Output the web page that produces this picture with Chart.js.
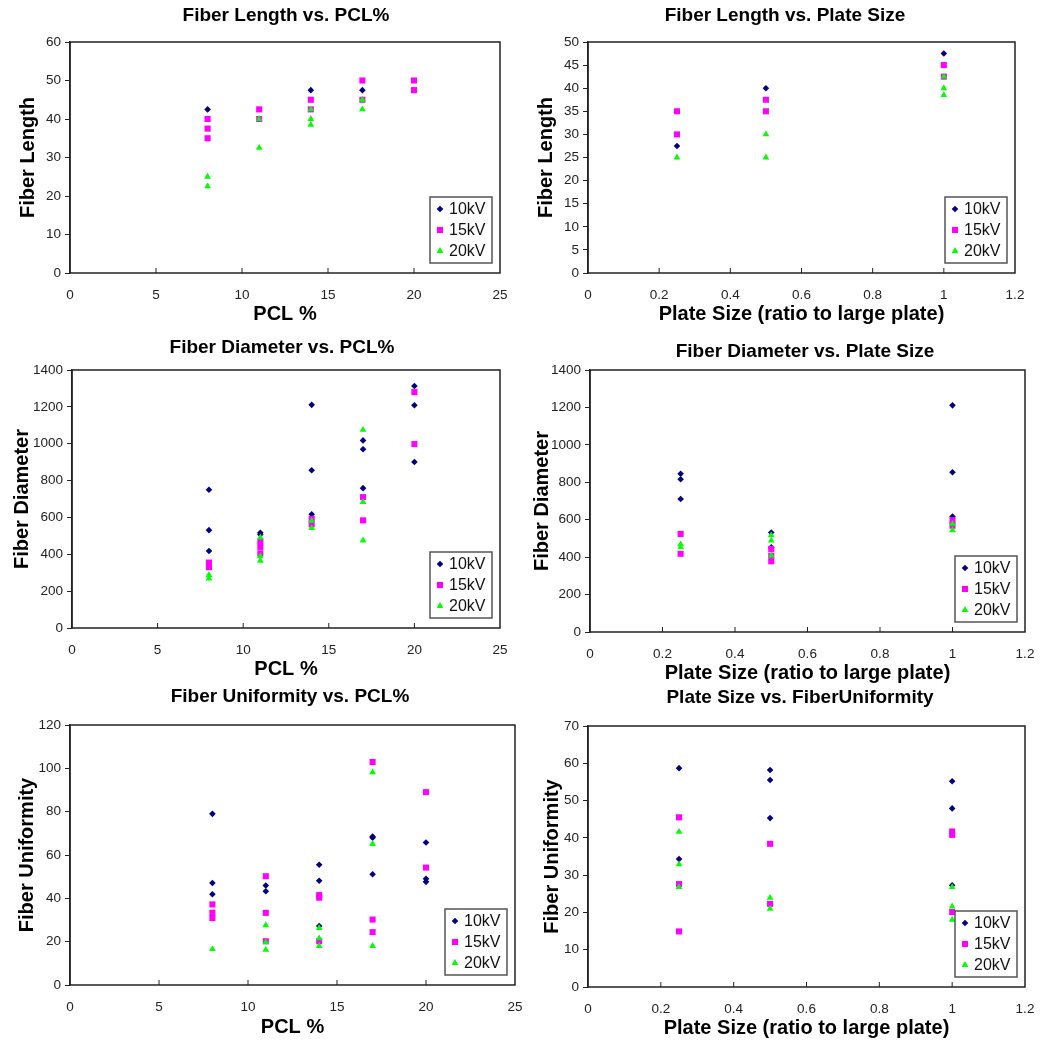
<!DOCTYPE html>
<html>
<head>
<meta charset="utf-8">
<script src="https://cdn.jsdelivr.net/npm/chart.js@4.4.1/dist/chart.umd.min.js"></script>
<style>
  body { margin: 0; background: #fff; width: 1049px; height: 1050px; position: relative; overflow: hidden; }
  .panel { position: absolute; }
</style>
</head>
<body>
<script>
// x categories
const pclLevels = [8, 11, 14, 17, 20];
const plateLevels = [0.25, 0.5, 1];
const seriesNames = ['10kV', '15kV', '20kV'];

// values grouped per x level (same order as the level arrays)
const lengthPcl10 = [[42.5], [], [47.5], [47.5], []];
const lengthPcl15 = [[40, 37.5, 35], [42.5, 40], [45, 42.5], [50, 45], [50, 47.5]];
const lengthPcl20 = [[25, 22.5], [40, 32.5], [42.5, 40, 38.5], [45, 42.5], []];

const lengthPlate10 = [[27.5], [40], [47.5]];
const lengthPlate15 = [[35, 30], [37.5, 35], [45, 42.5]];
const lengthPlate20 = [[25], [30, 25], [42.5, 40, 38.5]];

const diamPcl10 = [[750, 531, 418], [517, 507], [1211, 856, 617], [1018, 970, 759], [1313, 1209, 901]];
const diamPcl15 = [[355, 330], [470, 440, 405], [592, 562], [710, 584], [1280, 998]];
const diamPcl20 = [[288, 268], [491, 390, 365], [582, 542], [1075, 684, 475], []];

const diamPlate10 = [[846, 816, 711], [532, 452], [1211, 854, 617]];
const diamPlate15 = [[524, 418], [444, 408, 378], [597, 568]];
const diamPlate20 = [[468, 452], [518, 488, 408], [578, 544]];

const unifPcl10 = [[79, 47.1, 41.9], [45.9, 43.3], [55.5, 48.1, 27.2], [68.5, 68, 51.1], [65.8, 49, 47.6]];
const unifPcl15 = [[37.2, 33.4, 30.9], [50.2, 33.3, 20.2], [41.5, 40.3, 20.2], [102.9, 30.2, 24.4], [89, 54.2]];
const unifPcl20 = [[16.6], [27.6, 19.7, 16.2], [26.3, 21.5, 18], [98.2, 65.1, 18], []];

const unifPlate10 = [[58.7, 34.3], [58.2, 55.5, 45.3], [55.2, 47.9, 27.3]];
const unifPlate15 = [[45.5, 27.6, 14.9], [38.4, 22.3], [41.7, 40.8, 20.1]];
const unifPlate20 = [[41.6, 32.9, 26.8], [23.9, 21], [26.8, 21.6, 18]];

const seriesStyle = [
  { color: '#000080', shape: 'rectRot', r: 3.3 },
  { color: '#ff00ff', shape: 'rect', r: 4.3 },
  { color: '#00ff00', shape: 'triangle', r: 3.9 }
];

Chart.defaults.font.family = '"Liberation Sans", Arial, sans-serif';
Chart.defaults.color = '#222';

const panels = [
  { title: 'Fiber Length vs. PCL%', yTitle: 'Fiber Length', xTitle: 'PCL %', levels: pclLevels,
    series: [lengthPcl10, lengthPcl15, lengthPcl20], xMax: 25, xStep: 5, yMax: 60, yStep: 10,
    box: [70, 42, 500, 273], titleAt: [286, 16], yTitleDist: 42, xTitleDist: 41 },
  { title: 'Fiber Length vs. Plate Size', yTitle: 'Fiber Length', xTitle: 'Plate Size (ratio to large plate)', levels: plateLevels,
    series: [lengthPlate10, lengthPlate15, lengthPlate20], xMax: 1.2, xStep: 0.2, yMax: 50, yStep: 5,
    box: [588, 42, 1015, 273], titleAt: [785, 16], yTitleDist: 42, xTitleDist: 41 },
  { title: 'Fiber Diameter vs. PCL%', yTitle: 'Fiber Diameter', xTitle: 'PCL %', levels: pclLevels,
    series: [diamPcl10, diamPcl15, diamPcl20], xMax: 25, xStep: 5, yMax: 1400, yStep: 200,
    box: [72, 370, 500, 628], titleAt: [282, 348], yTitleDist: 50, xTitleDist: 41 },
  { title: 'Fiber Diameter vs. Plate Size', yTitle: 'Fiber Diameter', xTitle: 'Plate Size (ratio to large plate)', levels: plateLevels,
    series: [diamPlate10, diamPlate15, diamPlate20], xMax: 1.2, xStep: 0.2, yMax: 1400, yStep: 200,
    box: [590, 370, 1025, 632], titleAt: [805, 352], yTitleDist: 48, xTitleDist: 41 },
  { title: 'Fiber Uniformity vs. PCL%', yTitle: 'Fiber Uniformity', xTitle: 'PCL %', levels: pclLevels,
    series: [unifPcl10, unifPcl15, unifPcl20], xMax: 25, xStep: 5, yMax: 120, yStep: 20,
    box: [70, 725, 515, 985], titleAt: [290, 697], yTitleDist: 43, xTitleDist: 42 },
  { title: 'Plate Size vs. FiberUniformity', yTitle: 'Fiber Uniformity', xTitle: 'Plate Size (ratio to large plate)', levels: plateLevels,
    series: [unifPlate10, unifPlate15, unifPlate20], xMax: 1.2, xStep: 0.2, yMax: 70, yStep: 10,
    box: [588, 726, 1025, 987], titleAt: [800, 698], yTitleDist: 36, xTitleDist: 41 }
];

function toPoints(levels, groups) {
  const pts = [];
  groups.forEach((vals, i) => vals.forEach(v => pts.push({ x: levels[i], y: v })));
  return pts;
}

const fmt = v => String(+Number(v).toFixed(2));

// frame, inward x ticks, title and the boxed legend inside the plot
const panelDecor = {
  id: 'panelDecor',
  afterDraw(chart) {
    const { ctx, chartArea: a } = chart;
    const o = chart.options.plugins.panelDecor;
    ctx.save();
    ctx.strokeStyle = '#222';
    ctx.lineWidth = 1.5;
    ctx.strokeRect(a.left, a.top, a.right - a.left, a.bottom - a.top);

    const xs = chart.scales.x;
    ctx.lineWidth = 1;
    xs.ticks.forEach(t => {
      const px = xs.getPixelForValue(t.value);
      if (px <= a.left + 1 || px >= a.right - 1) return;
      ctx.beginPath();
      ctx.moveTo(px, a.bottom);
      ctx.lineTo(px, a.bottom - 5);
      ctx.stroke();
    });

    ctx.fillStyle = '#000';
    ctx.font = 'bold 19px "Liberation Sans", Arial, sans-serif';
    ctx.textAlign = 'center';
    ctx.textBaseline = 'middle';
    ctx.fillText(o.title, o.titleX, o.titleY);

    const w = 62, h = 66;
    const x0 = a.right - 8 - w, y0 = a.bottom - 10 - h;
    ctx.fillStyle = '#fff';
    ctx.fillRect(x0, y0, w, h);
    ctx.strokeStyle = '#555';
    ctx.lineWidth = 1.5;
    ctx.strokeRect(x0, y0, w, h);
    ctx.font = '16px "Liberation Sans", Arial, sans-serif';
    ctx.textAlign = 'left';
    chart.data.datasets.forEach((ds, i) => {
      const cy = y0 + 12 + i * 21;
      ctx.fillStyle = ds.backgroundColor;
      Chart.helpers.drawPoint(ctx, { pointStyle: ds.pointStyle, radius: ds.pointRadius, rotation: 0, borderWidth: 0 }, x0 + 10, cy);
      ctx.fillStyle = '#111';
      ctx.fillText(ds.label, x0 + 19, cy + 1);
    });
    ctx.restore();
  }
};

panels.forEach(p => {
  const yw = 72, topPad = 42, xh = 58, rightPad = 22;
  const plotW = p.box[2] - p.box[0], plotH = p.box[3] - p.box[1];
  const cw = yw + plotW + rightPad, ch = topPad + plotH + xh;
  const left = p.box[0] - yw, top = p.box[1] - topPad;

  const div = document.createElement('div');
  div.className = 'panel';
  div.style.left = left + 'px';
  div.style.top = top + 'px';
  const canvas = document.createElement('canvas');
  canvas.width = cw;
  canvas.height = ch;
  canvas.style.width = cw + 'px';
  canvas.style.height = ch + 'px';
  div.appendChild(canvas);
  document.body.appendChild(div);

  const titleFont = { size: 20, weight: 'bold' };
  const lh = 20 * 1.2 / 2;

  new Chart(canvas.getContext('2d'), {
    type: 'scatter',
    data: {
      datasets: p.series.map((groups, i) => ({
        label: seriesNames[i],
        data: toPoints(p.levels, groups),
        backgroundColor: seriesStyle[i].color,
        borderColor: seriesStyle[i].color,
        pointStyle: seriesStyle[i].shape,
        pointRadius: seriesStyle[i].r,
        pointBorderWidth: 0,
        order: 3 - i
      }))
    },
    options: {
      responsive: false,
      animation: false,
      devicePixelRatio: 1,
      layout: { padding: { top: topPad, right: rightPad, left: 0, bottom: 0 } },
      plugins: {
        legend: { display: false },
        tooltip: { enabled: false },
        panelDecor: { title: p.title, titleX: p.titleAt[0] - left, titleY: p.titleAt[1] - top }
      },
      scales: {
        x: {
          type: 'linear', min: 0, max: p.xMax,
          ticks: { stepSize: p.xStep, callback: fmt, font: { size: 13.5 }, padding: 6, maxRotation: 0 },
          grid: { display: false },
          border: { display: false },
          title: { display: true, text: p.xTitle, color: '#000', font: titleFont,
                   padding: { top: 0, bottom: Math.max(0, xh - p.xTitleDist - lh) } },
          afterFit: s => { s.height = xh; }
        },
        y: {
          min: 0, max: p.yMax,
          ticks: { stepSize: p.yStep, callback: fmt, font: { size: 13.5 }, padding: 4 },
          grid: { display: true, drawOnChartArea: false, drawTicks: true, tickLength: 5, color: '#222' },
          border: { display: true, color: '#222', width: 1.5 },
          title: { display: true, text: p.yTitle, color: '#000', font: titleFont,
                   padding: { top: Math.max(0, yw - p.yTitleDist - lh), bottom: 0 } },
          afterFit: s => { s.width = yw; }
        }
      }
    },
    plugins: [panelDecor]
  });
});
</script>
</body>
</html>
